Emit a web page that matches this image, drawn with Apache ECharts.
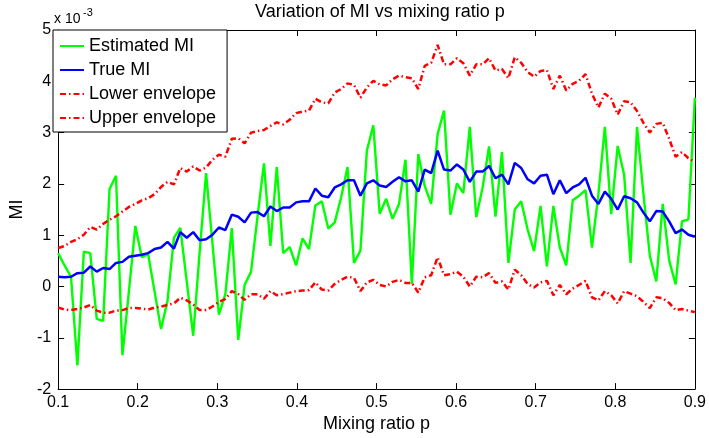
<!DOCTYPE html>
<html>
<head>
<meta charset="utf-8">
<script src="https://cdn.jsdelivr.net/npm/echarts@6/dist/echarts.min.js"></script>
<style>html,body{margin:0;padding:0;background:#fff}#c{width:709px;height:438px}</style>
</head>
<body>
<div id="c"></div>
<script>
// mixing ratio p (x positions of the samples)
var p = [0.1000,0.1081,0.1162,0.1242,0.1323,0.1404,0.1485,0.1566,0.1646,0.1727,
0.1808,0.1889,0.1970,0.2051,0.2131,0.2212,0.2293,0.2374,0.2455,0.2535,
0.2616,0.2697,0.2778,0.2859,0.2939,0.3020,0.3101,0.3182,0.3263,0.3343,
0.3424,0.3505,0.3586,0.3667,0.3747,0.3828,0.3909,0.3990,0.4071,0.4152,
0.4232,0.4313,0.4394,0.4475,0.4556,0.4636,0.4717,0.4798,0.4879,0.4960,
0.5040,0.5121,0.5202,0.5283,0.5364,0.5444,0.5525,0.5606,0.5687,0.5768,
0.5848,0.5929,0.6010,0.6091,0.6172,0.6253,0.6333,0.6414,0.6495,0.6576,
0.6657,0.6737,0.6818,0.6899,0.6980,0.7061,0.7141,0.7222,0.7303,0.7384,
0.7465,0.7545,0.7626,0.7707,0.7788,0.7869,0.7949,0.8030,0.8111,0.8192,
0.8273,0.8354,0.8434,0.8515,0.8596,0.8677,0.8758,0.8838,0.8919,0.9000];

// values in units of 1e-3
var estimatedMI = [0.65,0.41,0.19,-1.54,0.68,0.65,-0.63,-0.67,1.90,2.16,
-1.34,-0.10,1.18,0.57,0.63,-0.10,-0.83,-0.28,0.95,1.14,
0.10,-0.96,0.67,2.21,0.84,-0.55,-0.15,1.14,-1.04,0.03,
0.29,1.36,2.40,0.79,2.33,0.65,0.77,0.41,0.94,0.73,
1.58,1.66,1.13,1.25,1.74,2.33,0.46,0.70,2.65,3.14,
1.42,1.71,1.32,1.61,2.47,0.05,2.58,1.96,1.61,2.97,
3.43,1.40,2.01,1.82,3.11,1.35,1.93,2.73,1.36,2.62,
0.46,1.50,1.66,1.11,0.69,1.57,0.39,1.57,0.76,0.41,
1.68,1.77,1.88,0.76,1.80,3.11,1.41,2.74,2.18,0.46,
3.11,1.80,0.60,0.10,1.61,0.51,0.04,1.27,1.31,3.68];

var trueMI = [0.19,0.18,0.19,0.26,0.27,0.39,0.29,0.36,0.34,0.46,
0.48,0.58,0.60,0.62,0.65,0.73,0.76,0.87,0.74,1.06,
0.95,1.06,0.90,0.92,1.01,1.15,1.10,1.40,1.36,1.25,
1.44,1.45,1.37,1.56,1.47,1.54,1.54,1.64,1.66,1.66,
1.91,1.77,1.74,1.93,1.99,2.07,2.07,1.77,2.01,2.07,
1.97,1.94,2.04,2.13,2.05,2.07,1.85,2.28,2.21,2.65,
2.28,2.26,2.38,2.28,2.04,2.24,2.24,2.35,2.11,2.18,
1.99,2.41,2.31,2.09,2.01,2.16,2.18,1.80,2.07,1.82,
1.93,1.99,2.12,1.77,1.61,1.85,1.71,1.50,1.76,1.72,
1.64,1.44,1.27,1.47,1.46,1.27,1.04,1.11,1.01,0.97];

var lowerEnvelope = [-0.41,-0.45,-0.46,-0.44,-0.41,-0.36,-0.47,-0.51,-0.51,-0.47,
-0.46,-0.42,-0.42,-0.43,-0.45,-0.41,-0.39,-0.36,-0.33,-0.22,
-0.27,-0.35,-0.46,-0.46,-0.39,-0.30,-0.24,-0.09,-0.15,-0.26,
-0.15,-0.15,-0.24,-0.09,-0.17,-0.15,-0.12,-0.09,-0.08,-0.07,
0.08,-0.06,-0.08,0.05,0.13,0.19,0.17,-0.09,0.08,0.13,
0.03,0.00,0.09,0.13,0.07,0.07,-0.12,0.18,0.22,0.57,
0.22,0.24,0.29,0.19,0.00,0.19,0.18,0.26,0.07,0.10,
-0.06,0.33,0.22,0.05,-0.02,0.08,0.11,-0.17,0.03,-0.15,
-0.04,0.03,0.11,-0.21,-0.27,-0.09,-0.17,-0.33,-0.09,-0.14,
-0.19,-0.30,-0.42,-0.21,-0.23,-0.32,-0.46,-0.44,-0.47,-0.50];

var upperEnvelope = [0.75,0.79,0.87,0.92,1.01,1.16,1.11,1.22,1.30,1.37,
1.46,1.55,1.61,1.68,1.72,1.80,1.94,2.04,1.99,2.31,
2.24,2.34,2.26,2.32,2.47,2.57,2.53,2.88,2.89,2.79,
3.00,3.03,3.05,3.13,3.20,3.16,3.25,3.38,3.41,3.43,
3.66,3.59,3.57,3.78,3.85,3.96,3.93,3.68,3.88,4.01,
3.94,3.92,4.04,4.11,4.08,4.06,3.85,4.30,4.36,4.71,
4.33,4.33,4.45,4.35,4.11,4.33,4.33,4.45,4.21,4.24,
4.06,4.47,4.36,4.18,4.09,4.20,4.22,3.85,4.11,3.82,
3.95,4.01,4.14,3.76,3.49,3.76,3.66,3.35,3.61,3.59,
3.42,3.19,3.00,3.17,3.19,2.88,2.53,2.62,2.50,2.43];

var seriesNames = ['Estimated MI','True MI','Lower envelope','Upper envelope'];
var xTickLabels = ['0.1','0.2','0.3','0.4','0.5','0.6','0.7','0.8','0.9'];
var yTickLabels = ['-2','-1','0','1','2','3','4','5'];

function pairs(v){ return p.map(function(x,i){ return [x, v[i]]; }); }

var FONT = 'Liberation Sans, Arial, Helvetica, sans-serif';
var chart = echarts.init(document.getElementById('c'), null, {renderer:'canvas'});
var axisLine = {show:true, onZero:false, lineStyle:{color:'#000', width:1}};
var tick = {show:true, inside:true, length:6, lineStyle:{color:'#000', width:1}};
var dashDot = [6,3,1.5,3];

chart.setOption({
  animation:false,
  backgroundColor:'#fff',
  title:{text:'Variation of MI vs mixing ratio p', left:375, top:-2, textAlign:'center',
    textStyle:{fontFamily:FONT, fontSize:18, fontWeight:'normal', color:'#000'}},
  grid:{left:53, right:11, top:30, bottom:39, containLabel:false},
  legend:{orient:'vertical', left:53, top:30, data:seriesNames,
    backgroundColor:'#fff', borderColor:'#000', borderWidth:1, borderRadius:0,
    padding:[6,11,4,6], itemGap:4, itemWidth:24, itemHeight:14,
    itemStyle:{opacity:0},
    textStyle:{fontFamily:FONT, fontSize:18, color:'#000', lineHeight:20}},
  xAxis:[
    {type:'value', min:0.1, max:0.9, interval:0.1, position:'bottom',
     name:'Mixing ratio p', nameLocation:'middle', nameGap:23,
     nameTextStyle:{fontFamily:FONT, fontSize:18, color:'#000'},
     axisLine:axisLine, axisTick:tick, splitLine:{show:false},
     axisLabel:{fontFamily:FONT, fontSize:16, color:'#000', margin:5,
       formatter:function(v){ var k=Math.round((v-0.1)/0.1); return xTickLabels[k]; }}},
    {type:'value', min:0.1, max:0.9, interval:0.1, position:'top',
     axisLine:axisLine, axisTick:tick, splitLine:{show:false}, axisLabel:{show:false}}
  ],
  yAxis:[
    {type:'value', min:-2, max:5, interval:1, position:'left',
     name:'MI', nameLocation:'middle', nameGap:27, nameRotate:90,
     nameTextStyle:{fontFamily:FONT, fontSize:18, color:'#000'},
     axisLine:axisLine, axisTick:tick, splitLine:{show:false},
     axisLabel:{fontFamily:FONT, fontSize:16, color:'#000', margin:7,
       formatter:function(v){ return yTickLabels[Math.round(v+2)]; }}},
    {type:'value', min:-2, max:5, interval:1, position:'right',
     axisLine:axisLine, axisTick:tick, splitLine:{show:false}, axisLabel:{show:false}}
  ],
  graphic:[
    {type:'text', left:54, top:12, style:{text:'x 10', font:'14px '+FONT, fill:'#000'}},
    {type:'text', left:83, top:7, style:{text:'-3', font:'11px '+FONT, fill:'#000'}}
  ],
  series:[
    {name:seriesNames[0], type:'line', data:pairs(estimatedMI), showSymbol:false, symbol:'none',
     lineStyle:{color:'#00ff00', width:2.4}, itemStyle:{color:'#00ff00'}, z:2},
    {name:seriesNames[1], type:'line', data:pairs(trueMI), showSymbol:false, symbol:'none',
     lineStyle:{color:'#0000ff', width:2.5}, itemStyle:{color:'#0000ff'}, z:3},
    {name:seriesNames[2], type:'line', data:pairs(lowerEnvelope), showSymbol:false, symbol:'none',
     lineStyle:{color:'#ff0000', width:2.5, type:dashDot}, itemStyle:{color:'#ff0000'}, z:4},
    {name:seriesNames[3], type:'line', data:pairs(upperEnvelope), showSymbol:false, symbol:'none',
     lineStyle:{color:'#ff0000', width:2.5, type:dashDot}, itemStyle:{color:'#ff0000'}, z:4}
  ]
});
</script>
</body>
</html>
